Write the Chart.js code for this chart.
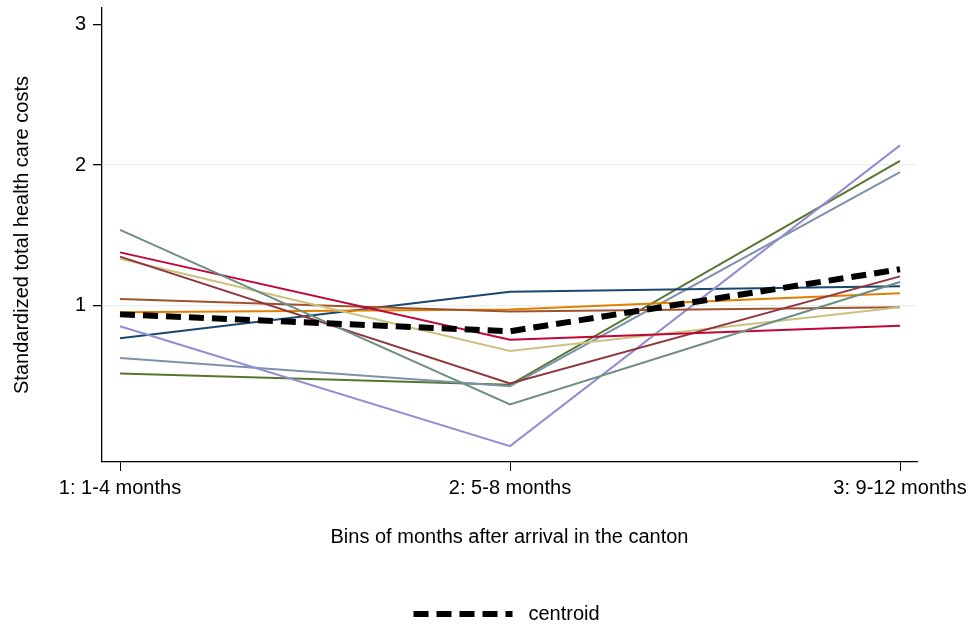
<!DOCTYPE html>
<html>
<head>
<meta charset="utf-8">
<script src="https://cdn.jsdelivr.net/npm/chart.js@4"></script>
<style>
  html, body { margin: 0; padding: 0; background: #fff; }
  #wrap { width: 973px; height: 632px; }
</style>
</head>
<body>
<div id="wrap"><canvas id="costChart" width="973" height="632"></canvas></div>
<script>
// bins on the x axis
const binLabels = ['1: 1-4 months', '2: 5-8 months', '3: 9-12 months'];
const yTicks = [1, 2, 3];

// one array per cluster trajectory
const centroid   = [0.94, 0.82, 1.26];
const teal       = [1.54, 0.30, 1.17];
const cranberry  = [1.38, 0.76, 0.86];
const maroon     = [1.35, 0.45, 1.21];
const khaki      = [1.335, 0.68, 0.99];
const sienna     = [1.05, 0.96, 0.99];
const dkorange   = [0.955, 0.975, 1.09];
const lavender   = [0.856, 0.005, 2.14];
const navy       = [0.77, 1.10, 1.14];
const bluishgray = [0.63, 0.43, 1.95];
const green      = [0.52, 0.44, 2.03];

const toPoints = arr => arr.map((v, i) => ({ x: i + 1, y: v }));
const thin = (label, arr, color) => ({
    label: label,
    data: toPoints(arr),
    borderColor: color,
    backgroundColor: color,
    borderWidth: 2,
    pointRadius: 0,
    tension: 0,
    fill: false
});

const font = { family: '"Liberation Sans", Arial, Helvetica, sans-serif', size: 20 };

// legend under the plot, only the centroid line is listed
const centroidLegend = {
    id: 'centroidLegend',
    afterDraw(chart) {
        const ds = chart.data.datasets[0];
        const c = chart.ctx;
        const mid = (chart.chartArea.left + chart.chartArea.right) / 2;
        const y = 614;
        c.save();
        c.strokeStyle = ds.borderColor;
        c.lineWidth = ds.borderWidth;
        c.setLineDash(ds.borderDash);
        c.beginPath();
        c.moveTo(mid - 96, y);
        c.lineTo(mid + 3, y);
        c.stroke();
        c.setLineDash([]);
        c.fillStyle = '#000';
        c.font = font.size + 'px ' + font.family;
        c.textBaseline = 'middle';
        c.fillText(ds.label, mid + 19, y);
        c.restore();
    }
};

const ctx = document.getElementById('costChart').getContext('2d');
const costChart = new Chart(ctx, {
    type: 'line',
    data: {
        datasets: [{
            label: 'centroid',
            data: toPoints(centroid),
            borderColor: '#000000',
            backgroundColor: '#000000',
            borderWidth: 6,
            borderDash: [15, 8],
            pointRadius: 0,
            tension: 0,
            fill: false
        },
            thin('cluster 1', teal, '#6e8e84'),
            thin('cluster 2', cranberry, '#c10534'),
            thin('cluster 3', maroon, '#90353b'),
            thin('cluster 4', khaki, '#cac27e'),
            thin('cluster 5', sienna, '#a0522d'),
            thin('cluster 6', dkorange, '#e37e00'),
            thin('cluster 7', lavender, '#938dd2'),
            thin('cluster 8', navy, '#1a476f'),
            thin('cluster 9', bluishgray, '#7b92a8'),
            thin('cluster 10', green, '#55752f')
        ]
    },
    plugins: [centroidLegend],
    options: {
        responsive: false,
        animation: false,
        layout: { padding: { top: 8, right: 56, bottom: 0, left: 0 } },
        plugins: {
            tooltip: { enabled: false },
            legend: { display: false }
        },
        scales: {
            x: {
                type: 'linear',
                min: 1 - 18 / 390,
                max: 3 + 17 / 390,
                afterBuildTicks: scale => { scale.ticks = binLabels.map((_, i) => ({ value: i + 1 })); },
                afterFit: scale => { scale.height = 170; },
                ticks: {
                    callback: v => binLabels[v - 1],
                    color: '#000',
                    font: font,
                    padding: 5,
                    maxRotation: 0,
                    autoSkip: false
                },
                grid: {
                    drawOnChartArea: false,
                    tickLength: 9,
                    tickColor: '#000'
                },
                border: { color: '#000', width: 1.3 },
                title: {
                    display: true,
                    text: 'Bins of months after arrival in the canton',
                    color: '#000',
                    font: font,
                    padding: { top: 0, bottom: 83 }
                }
            },
            y: {
                min: -0.108,
                max: 3.115,
                afterBuildTicks: scale => { scale.ticks = yTicks.map(v => ({ value: v })); },
                afterFit: scale => {
                    scale.width = 102;
                    scale.paddingTop = 0;
                    scale.paddingBottom = 0;
                },
                ticks: {
                    color: '#000',
                    font: font,
                    padding: 7
                },
                grid: {
                    color: c => (c.tick && c.tick.value < 3) ? '#e6eff1' : 'rgba(0,0,0,0)',
                    lineWidth: 1.3,
                    tickLength: 9,
                    tickColor: '#000'
                },
                border: { color: '#000', width: 1.3 },
                title: {
                    display: true,
                    text: 'Standardized total health care costs',
                    color: '#000',
                    font: font,
                    padding: { top: 10, bottom: 0 }
                }
            }
        }
    }
});
</script>
</body>
</html>
